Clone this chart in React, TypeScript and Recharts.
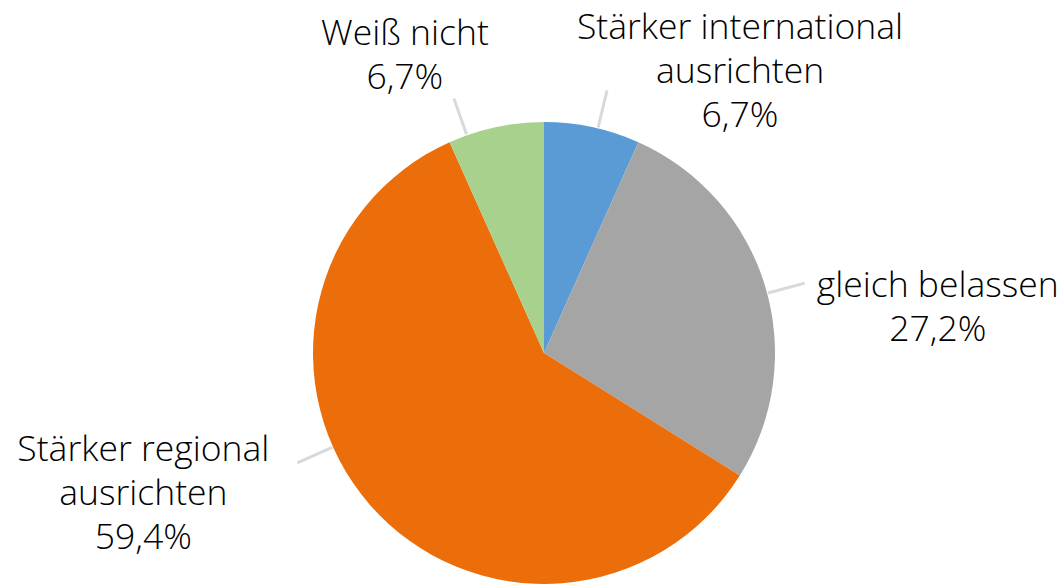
import { PieChart, Pie, Cell } from 'recharts';

const categories = ['Stärker international ausrichten', 'gleich belassen', 'Stärker regional ausrichten', 'Weiß nicht'];
const labelLines = [['Stärker international', 'ausrichten'], ['gleich belassen'], ['Stärker regional', 'ausrichten'], ['Weiß nicht']];
const shares = [6.7, 27.2, 59.4, 6.7];
const colors = ['#5B9BD5', '#A5A5A5', '#EC6E0B', '#A9D18E'];

const data = categories.map((name, i) => ({ name, value: shares[i] }));

// leader line angle (deg) and text offset from the line end, per slice
const labelLayout = [
    { angle: 76.5, dx: 133, dy: -64 },
    { angle: 15, dx: 133, dy: 1 },
    { angle: 204, dx: -154, dy: -14 },
    { angle: 109.5, dx: -49, dy: -66 },
];

const RAD = Math.PI / 180;

const renderLabel = (props: any) => {
    const { cx, cy, outerRadius, index, value } = props;
    const lay = labelLayout[index];
    const a = lay.angle * RAD;
    const x1 = cx + (outerRadius + 1) * Math.cos(a);
    const y1 = cy - (outerRadius + 1) * Math.sin(a);
    const x2 = cx + (outerRadius + 39) * Math.cos(a);
    const y2 = cy - (outerRadius + 39) * Math.sin(a);
    const lines = [...labelLines[index], String(value).replace('.', ',') + '%'];
    const tx = x2 + lay.dx;
    const ty = y2 + lay.dy;
    return (
        <g>
            <line x1={x1} y1={y1} x2={x2} y2={y2} stroke="#D9D9D9" strokeWidth={3} />
            <text x={tx} y={ty} textAnchor="middle" fill="#000" fontSize={35.5} fontWeight={300}
                fontFamily="'Open Sans', 'Noto Sans', sans-serif">
                {lines.map((l, i) => (
                    <tspan key={i} x={tx} dy={i === 0 ? '0.35em' : 44}>{l}</tspan>
                ))}
            </text>
        </g>
    );
};

export default function App() {
    return (
        <div style={{ position: 'absolute', left: 0, top: 0, width: 1064, height: 584, background: '#fff' }}>
            <style>{`.recharts-pie-sectors { filter: drop-shadow(0 0 4px rgba(0,0,0,0.25)); }`}</style>
            <PieChart width={1064} height={584} margin={{ top: 0, right: 0, bottom: 0, left: 0 }}>
                <Pie
                    data={data}
                    dataKey="value"
                    cx={544}
                    cy={353}
                    outerRadius={231}
                    startAngle={90}
                    endAngle={-270}
                    stroke="none"
                    label={renderLabel}
                    labelLine={false}
                    isAnimationActive={false}
                >
                    {data.map((d, i) => (
                        <Cell key={d.name} fill={colors[i]} />
                    ))}
                </Pie>
            </PieChart>
        </div>
    );
}
